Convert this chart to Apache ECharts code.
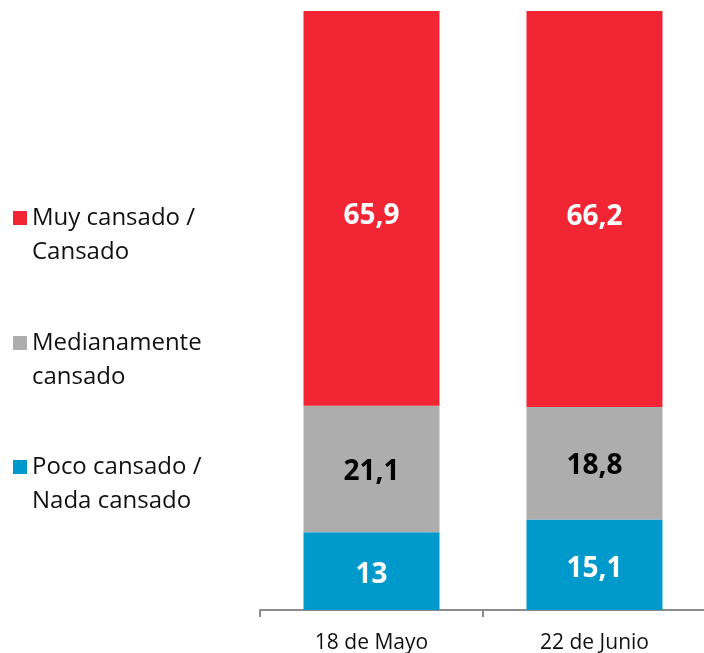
<!DOCTYPE html>
<html>
<head>
  <meta charset="utf-8">
  <title>Cansancio</title>
  <script src="https://cdn.jsdelivr.net/npm/echarts@6.0.0/dist/echarts.min.js"></script>
  <style>
    html, body { margin: 0; padding: 0; background: #fff; }
    #chart { width: 704px; height: 653px; }
  </style>
</head>
<body>
  <div id="chart"></div>
  <script>
    // datos
    var categories = ['18 de Mayo', '22 de Junio'];
    var seriesNames = ['Poco cansado /\nNada cansado', 'Medianamente\ncansado', 'Muy cansado /\nCansado'];
    var poco = [13, 15.1];
    var mediana = [21.1, 18.8];
    var muy = [65.9, 66.2];

    var colors = ['#0099CC', '#ADADAD', '#F22535'];
    var labelColors = ['#fff', '#000', '#fff'];
    var values = [poco, mediana, muy];
    var legendTops = [421, 297, 172];
    var labelShift = [4, 3, 8];

    var myChart = echarts.init(document.getElementById('chart'));

    var series = [];
    var legends = [];
    for (var i = 0; i < values.length; i++) {
      series.push({
        name: seriesNames[i],
        type: 'bar',
        stack: 'total',
        barWidth: 136,
        itemStyle: { color: colors[i] },
        label: {
          show: true,
          position: 'inside',
          offset: [0, labelShift[i]],
          color: labelColors[i],
          fontFamily: 'Open Sans',
          fontWeight: 'bold',
          fontSize: 28,
          formatter: function (p) { return String(p.value).replace('.', ','); }
        },
        data: values[i]
      });
      legends.push({
        data: [seriesNames[i]],
        left: 13,
        top: legendTops[i],
        padding: 0,
        orient: 'vertical',
        itemWidth: 14,
        itemHeight: 14,
        icon: 'rect',
        selectedMode: false,
        // linea vacia arriba para que el cuadrado quede con la primera linea
        formatter: function (name) {
          return '{e| }\n' + name.split('\n').map(function (s) { return '{t|' + s + '}'; }).join('\n');
        },
        textStyle: {
          rich: {
            e: { fontSize: 24, lineHeight: 34, fontFamily: 'Open Sans' },
            t: { fontSize: 24, lineHeight: 34, fontFamily: 'Open Sans', color: '#111' }
          }
        }
      });
    }

    var option = {
      animation: false,
      legend: legends,
      grid: { left: 260, right: -2, top: 11, bottom: 43, containLabel: false, outerBoundsMode: 'none' },
      xAxis: {
        type: 'category',
        data: categories,
        axisLine: { lineStyle: { color: '#8c8c8c', width: 2 } },
        axisTick: { show: true, length: 7, lineStyle: { color: '#8c8c8c', width: 2 } },
        axisLabel: { margin: 23, fontFamily: 'Open Sans', fontSize: 21, color: '#111' }
      },
      yAxis: {
        type: 'value',
        min: 0,
        max: 100,
        show: false,
        splitLine: { show: false }
      },
      series: series
    };
    myChart.setOption(option);
  </script>
</body>
</html>
